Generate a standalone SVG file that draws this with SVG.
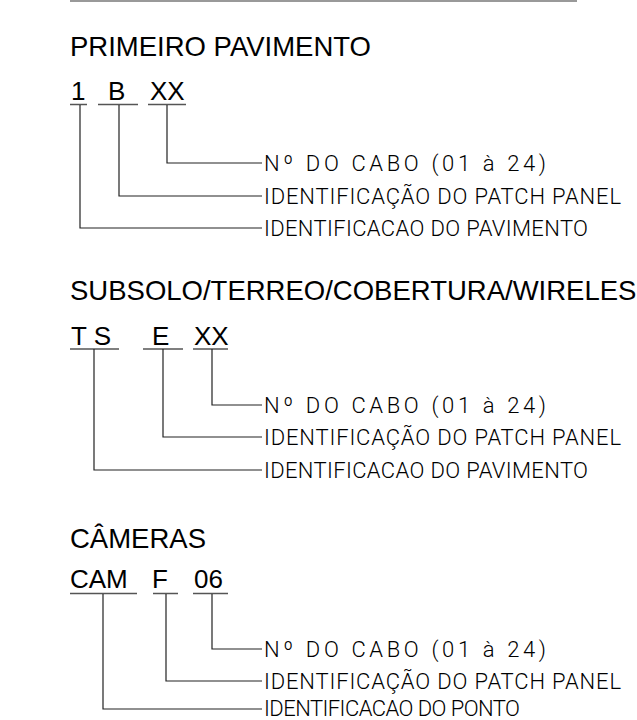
<svg xmlns="http://www.w3.org/2000/svg" width="637" height="720" viewBox="0 0 637 720">
<style>
.title{font-family:"Liberation Sans",Arial,sans-serif;font-size:27.5px;fill:#000}
.code{font-family:"Liberation Sans",Arial,sans-serif;font-size:26px;fill:#000}
.lbl{font-family:Roboto,"DejaVu Sans",sans-serif;font-weight:300;font-size:22px;fill:#000}
.ln{stroke:#222;stroke-width:1.2;fill:none}
.ul{stroke:#555;stroke-width:1.3;fill:none}
</style>
<rect width="637" height="720" fill="#fff"/>
<line x1="70" y1="1" x2="577" y2="1" stroke="#777" stroke-width="1.6"/>

<g id="sec1">
  <text class="title" x="70" y="56">PRIMEIRO PAVIMENTO</text>
  <g id="code1">
    <text class="code" x="71" y="100">1</text>
    <text class="code" x="108" y="100">B</text>
    <text class="code" x="150" y="100">XX</text>
    <path class="ul" d="M70 104.5H87M98 104.5H138M148 104.5H186"/>
  </g>
  <g id="lbl1">
    <text class="lbl" x="264" y="171" textLength="282" lengthAdjust="spacing">Nº DO CABO (01 à 24)</text>
    <text class="lbl" x="264" y="204" textLength="357" lengthAdjust="spacing">IDENTIFICAÇÃO DO PATCH PANEL</text>
    <text class="lbl" x="264" y="236" textLength="324" lengthAdjust="spacing">IDENTIFICACAO DO PAVIMENTO</text>
  </g>
</g>

<g id="sec2">
  <text class="title" x="70" y="300">SUBSOLO/TERREO/COBERTURA/WIRELES</text>
  <g id="code2">
    <text class="code" x="71" y="345">T S</text>
    <text class="code" x="152" y="345">E</text>
    <text class="code" x="194" y="345">XX</text>
    <path class="ul" d="M70 349H119M143 349H183M193 349H228"/>
  </g>
  <g id="lbl2">
    <text class="lbl" x="264" y="413" textLength="282" lengthAdjust="spacing">Nº DO CABO (01 à 24)</text>
    <text class="lbl" x="264" y="445" textLength="357" lengthAdjust="spacing">IDENTIFICAÇÃO DO PATCH PANEL</text>
    <text class="lbl" x="264" y="478" textLength="324" lengthAdjust="spacing">IDENTIFICACAO DO PAVIMENTO</text>
  </g>
</g>

<g id="sec3">
  <text class="title" x="70" y="548">CÂMERAS</text>
  <g id="code3">
    <text class="code" x="70" y="588">CAM</text>
    <text class="code" x="152" y="588">F</text>
    <text class="code" x="194" y="588">06</text>
    <path class="ul" d="M70 593.5H137M153 593.5H178M193 593.5H228"/>
  </g>
  <g id="lbl3">
    <text class="lbl" x="264" y="657" textLength="282" lengthAdjust="spacing">Nº DO CABO (01 à 24)</text>
    <text class="lbl" x="264" y="689" textLength="357" lengthAdjust="spacing">IDENTIFICAÇÃO DO PATCH PANEL</text>
    <text class="lbl" x="264" y="716" textLength="256" lengthAdjust="spacing">IDENTIFICACAO DO PONTO</text>
  </g>
</g>

<g id="connectors">
  <path class="ln" d="M167 105V163H262M119 105V196H262M80 105V228H262"/>
  <path class="ln" d="M212 349V405H262M163 349V437H262M94 349V470H262"/>
  <path class="ln" d="M212 594V649H262M166 594V681H262M103 594V709H262"/>
</g>
</svg>
